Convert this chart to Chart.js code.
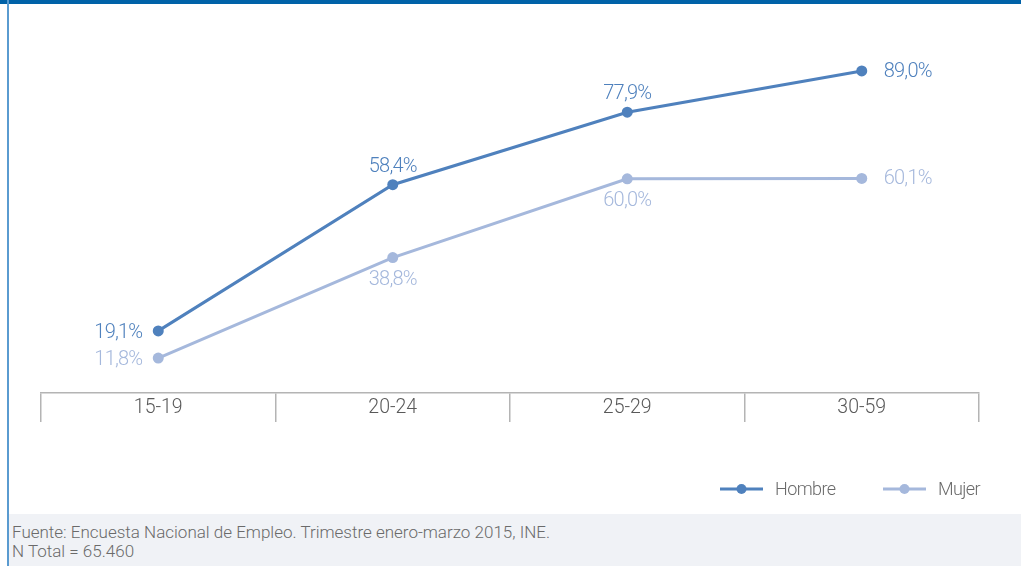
<!DOCTYPE html>
<html lang="es">
<head>
<meta charset="utf-8">
<script src="https://cdn.jsdelivr.net/npm/chart.js@4.4.1/dist/chart.umd.min.js"></script>
<style>
  html, body { margin: 0; padding: 0; background: #fff; }
  #wrap { position: relative; width: 1021px; height: 566px; overflow: hidden; font-family: Roboto, "Noto Sans", sans-serif; }
  #topbar { position: absolute; left: 0; top: 0; width: 1021px; height: 4px; background: #0062a8; }
  #leftbar { position: absolute; left: 7px; top: 0; width: 2px; height: 566px; background: #5a9bd0; }
  #chartBox { position: absolute; left: 0; top: 0; width: 1021px; height: 514px; }
  #foot { position: absolute; left: 9px; top: 514px; width: 1012px; height: 52px; background: #f0f2f6;
          color: #6a6a6a; font-size: 17px; font-weight: 300; line-height: 19px; padding: 9px 0 0 3px; box-sizing: border-box; }
</style>
</head>
<body>
<div id="wrap">
  <div id="chartBox"><canvas id="c" width="1021" height="514"></canvas></div>
  <div id="topbar"></div>
  <div id="leftbar"></div>
  <div id="foot">Fuente: Encuesta Nacional de Empleo. Trimestre enero-marzo 2015, INE.<br>N Total = 65.460</div>
</div>
<script>
// Tramos de edad
const categories = ['15-19', '20-24', '25-29', '30-59'];
// Porcentajes por sexo
const hombre = [19.1, 58.4, 77.9, 89.0];
const mujer = [11.8, 38.8, 60.0, 60.1];
const seriesNames = ['Hombre', 'Mujer'];

const colHombre = '#4f81bd';
const colMujer = '#a5b8dc';

// Posición de cada etiqueta de valor respecto a su punto
const labelPlace = [
  ['left', 'above', 'above', 'right'],
  ['left', 'below', 'below', 'right']
];

const fmt = v => v.toFixed(1).replace('.', ',') + '%';

const valueLabels = {
  id: 'valueLabels',
  afterDatasetsDraw(chart) {
    const ctx = chart.ctx;
    ctx.save();
    ctx.font = '300 20px Roboto, sans-serif';
    ctx.letterSpacing = '-0.8px';
    chart.data.datasets.forEach((ds, di) => {
      const meta = chart.getDatasetMeta(di);
      meta.data.forEach((pt, i) => {
        const txt = fmt(ds.data[i]);
        const place = labelPlace[di][i];
        ctx.fillStyle = ds.borderColor;
        ctx.textBaseline = 'middle';
        let x = pt.x, y = pt.y;
        if (place === 'left') { ctx.textAlign = 'right'; x -= 16; y += 2; }
        else if (place === 'right') { ctx.textAlign = 'left'; x += 22; y += 1; }
        else if (place === 'above') { ctx.textAlign = 'center'; y -= 18; }
        else { ctx.textAlign = 'center'; y += 22; }
        ctx.fillText(txt, x, y);
      });
    });
    ctx.restore();
  }
};

// Leyenda con muestra de línea y marcador
const lineLegend = {
  id: 'lineLegend',
  afterDraw(chart) {
    const ctx = chart.ctx;
    const area = chart.chartArea;
    const y = area.bottom + 96;
    const starts = [area.right - 259, area.right - 96];
    ctx.save();
    ctx.font = '300 18px Roboto, sans-serif';
    ctx.letterSpacing = '-0.6px';
    ctx.textBaseline = 'middle';
    ctx.textAlign = 'left';
    chart.data.datasets.forEach((ds, di) => {
      const x0 = starts[di];
      ctx.strokeStyle = ds.borderColor;
      ctx.lineWidth = 3;
      ctx.beginPath();
      ctx.moveTo(x0, y);
      ctx.lineTo(x0 + 43, y);
      ctx.stroke();
      ctx.fillStyle = ds.borderColor;
      ctx.beginPath();
      ctx.arc(x0 + 21.5, y, 5, 0, Math.PI * 2);
      ctx.fill();
      ctx.fillStyle = '#6a6a6a';
      ctx.fillText(ds.label, x0 + 55, y + 1);
    });
    ctx.restore();
  }
};

new Chart(document.getElementById('c'), {
  type: 'line',
  data: {
    labels: categories,
    datasets: [
      { label: seriesNames[0], data: hombre, borderColor: colHombre, backgroundColor: colHombre,
        borderWidth: 3, pointRadius: 5.5, pointBackgroundColor: colHombre, pointBorderWidth: 0 },
      { label: seriesNames[1], data: mujer, borderColor: colMujer, backgroundColor: colMujer,
        borderWidth: 3, pointRadius: 5.5, pointBackgroundColor: colMujer, pointBorderWidth: 0 }
    ]
  },
  options: {
    responsive: false,
    animation: false,
    clip: false,
    layout: { padding: { left: 41, right: 42, top: 30, bottom: 0 } },
    plugins: { legend: { display: false }, tooltip: { enabled: false } },
    scales: {
      y: { display: false, min: 2.4, max: 100 },
      x: {
        offset: true,
        grid: { offset: true, drawOnChartArea: false, drawTicks: true, tickLength: 29, color: '#b4b4b4', lineWidth: 1.5 },
        border: { display: true, color: '#b4b4b4', width: 1.5 },
        ticks: { color: '#595959', font: { family: 'Roboto', size: 19.5, weight: '300' }, padding: -26 },
        afterFit: s => { s.height = 121; }
      }
    }
  },
  plugins: [valueLabels, lineLegend]
});
</script>
</body>
</html>
